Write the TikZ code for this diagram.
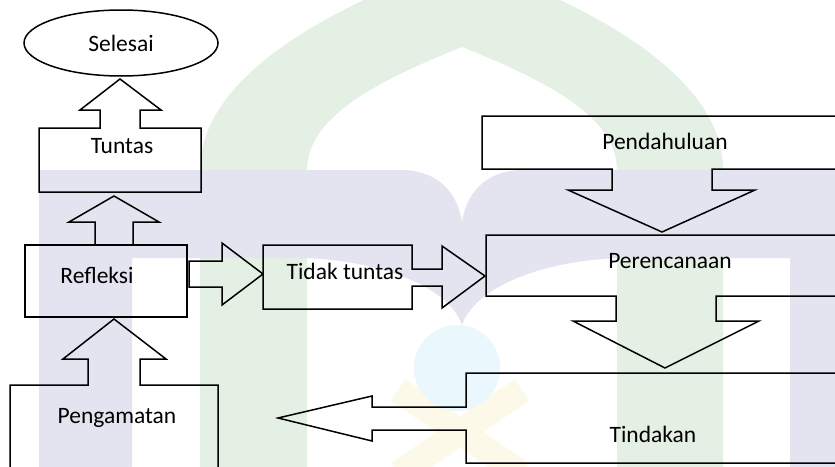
\documentclass[tikz,border=0pt]{standalone}
\usepackage{fontspec}
\setmainfont{Carlito}
\usetikzlibrary{shapes.geometric}

\definecolor{wmgreen}{RGB}{228,240,227}
\definecolor{wmlav}{RGB}{228,228,240}
\definecolor{wmblue}{RGB}{234,247,253}
\definecolor{wmyellow}{RGB}{253,249,232}

\newcommand{\lblfont}{\fontsize{23.5}{28}\selectfont}

\tikzset{
  ln/.style={line width=1.5pt, line join=miter, miter limit=10},
  lbl/.style={anchor=base, inner sep=0pt, font=\lblfont},
}

\begin{document}
\begin{tikzpicture}[x=1pt, y=-1pt]
\path[use as bounding box] (0,0) rectangle (835,466);
\clip (0,0) rectangle (835,466);
\fill[white] (0,0) rectangle (835,466);

% --- faint logo in the background ---
% green gate
\fill[wmgreen] (200,470) -- (200,170)
  .. controls (200,80) and (320,10) .. (462,-40)
  .. controls (604,10) and (723,80) .. (723,170)
  -- (723,470) -- (617,470) -- (617,170)
  .. controls (617,118) and (550,82) .. (462,47)
  .. controls (374,82) and (307,118) .. (307,170)
  -- (307,470) -- cycle;
% lavender "m"
\fill[wmlav] (39,470) -- (39,170) -- (400,170)
  .. controls (440,170) and (458,195) .. (462,222)
  .. controls (466,195) and (484,170) .. (524,170)
  -- (840,170) -- (840,470) -- (790,470) -- (790,258) -- (617,258)
  .. controls (534,262) and (474,290) .. (462,325)
  .. controls (450,290) and (390,262) .. (307,258)
  -- (132,258) -- (132,470) -- cycle;
% yellow cross and blue globe
\draw[wmyellow, line width=26pt] (398,390) -- (522,474);
\draw[wmyellow, line width=26pt] (522,390) -- (398,474);
\fill[wmblue] (457,368) circle[radius=43];

% --- flow chart ---
\node[ellipse, draw, ln, minimum width=194, minimum height=66, inner sep=0pt,
      font=\lblfont] (selesai) at (121,43) {Selesai};

% Tuntas box with arrow up to Selesai
\draw[ln] (39,128) -- (100,128) -- (100,110) -- (80,110) -- (120,79)
  -- (161,110) -- (140,110) -- (140,128) -- (201,128) -- (201,192)
  -- (39,192) -- cycle;
\node[lbl] (tuntas) at (122,153) {Tuntas};

% Refleksi box, arrow up to Tuntas, arrow right to Tidak tuntas
\draw[ln] (25,245) rectangle (187,317);
\draw[ln] (95,245) -- (95,222) -- (69,222) -- (114,196) -- (159,222)
  -- (133,222) -- (133,245);
\draw[ln] (189,261) -- (222,261) -- (222,243) -- (263,274) -- (222,305)
  -- (222,287) -- (189,287) -- cycle;
\node[lbl] (refleksi) at (97,283) {Refleksi};

% Tidak tuntas box with arrow right to Perencanaan
\draw[ln] (263,245) -- (412,245) -- (412,269) -- (442,269) -- (442,246)
  -- (485,276) -- (442,308) -- (442,286) -- (412,286) -- (412,309)
  -- (263,309) -- cycle;
\node[lbl] (tidak) at (345,279) {Tidak tuntas};

% Pendahuluan box with arrow down to Perencanaan
\draw[ln] (840,116) -- (482,116) -- (482,169) -- (612,169) -- (612,190)
  -- (568,190) -- (662,232) -- (755,190) -- (712,190) -- (712,169)
  -- (840,169);
\node[lbl] (pendahuluan) at (665,149) {Pendahuluan};

% Perencanaan box with arrow down to Tindakan
\draw[ln] (840,235) -- (486,235) -- (486,296) -- (616,296) -- (616,321)
  -- (573,321) -- (665,368) -- (759,321) -- (716,321) -- (716,296)
  -- (840,296);
\node[lbl] (perencanaan) at (670,268) {Perencanaan};

% Tindakan box with arrow left to Pengamatan
\draw[ln] (840,373) -- (466,373) -- (466,407) -- (372,407) -- (372,396)
  -- (278,418) -- (372,441) -- (372,430) -- (466,430) -- (466,463)
  -- (840,463);
\node[lbl] (tindakan) at (653,442) {Tindakan};

% Pengamatan box with arrow up to Refleksi
\draw[ln] (10,470) -- (10,385) -- (88,385) -- (88,359) -- (63,359)
  -- (114,319) -- (166,359) -- (140,359) -- (140,385) -- (218,385)
  -- (218,470);
\node[lbl] (pengamatan) at (117,423) {Pengamatan};
\end{tikzpicture}
\end{document}
